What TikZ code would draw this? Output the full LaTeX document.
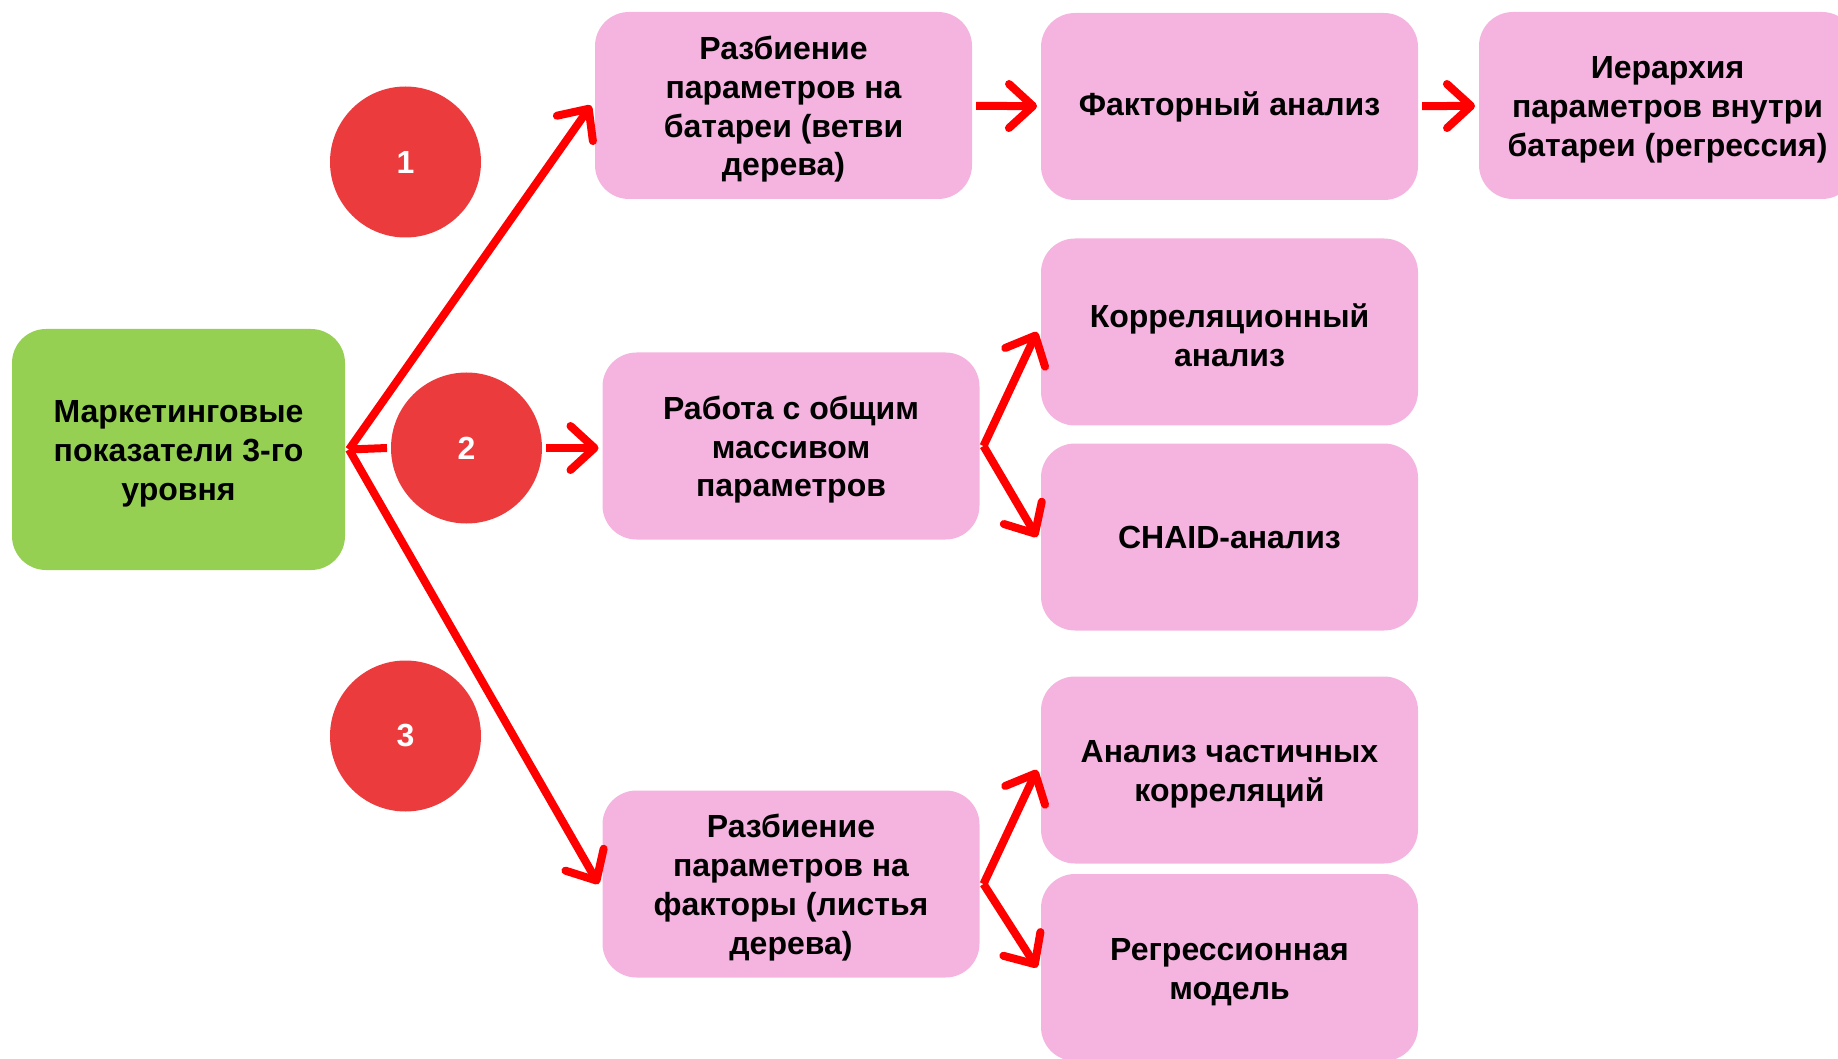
\documentclass[tikz,border=0pt]{standalone}
\usepackage{fontspec}
\setmainfont{Liberation Sans}
\usetikzlibrary{arrows.meta}

\definecolor{zelen}{HTML}{95D053}
\definecolor{rozov}{HTML}{F4B4DF}
\definecolor{krasn}{HTML}{EC3B3D}
\newcommand{\vstrut}{\rule{0pt}{15.5pt}}

\begin{document}
\begin{tikzpicture}[x=0.5pt, y=-0.5pt, line width=4pt,
    box/.style={fill=rozov, rounded corners=17pt, minimum width=188.5pt, minimum height=93.5pt,
        inner sep=0pt, align=center, font=\fontsize{16}{19.4}\selectfont\bfseries},
    start/.style={box, fill=zelen, minimum width=166.5pt, minimum height=120.5pt},
    num/.style={circle, fill=krasn, minimum size=75.5pt, inner sep=0pt, text=white,
        font=\fontsize{16}{19.4}\selectfont\bfseries},
    arr/.style={draw=red, line join=round, -{Straight Barb[length=12pt, width=22pt, line cap=round, line join=round]}}]
        \useasboundingbox (0,0) rectangle (1838,1059);

        % исходный блок и номера
        \node[start] (start) at (178.5,449.5) {\vstrut Маркетинговые\\показатели 3-го\\уровня};
        \node[num] (n1) at (405.5,162) {1};
        \node[num] (n2) at (466.5,448) {2};
        \node[num] (n3) at (405.5,736) {3};

        % ветка 1
        \node[box] (razb) at (783.5,105.5) {\vstrut Разбиение\\параметров на\\батареи (ветви\\дерева)};
        \node[box] (faktor) at (1229.5,106.5) {Факторный анализ};
        \node[box] (ierarh) at (1667.5,105.5) {\vstrut Иерархия\\параметров внутри\\батареи (регрессия)};
        % ветка 2
        \node[box] (massiv) at (791,446) {\vstrut Работа с общим\\массивом\\параметров};
        \node[box] (korr) at (1229.5,332) {\vstrut Корреляционный\\анализ};
        \node[box] (chaid) at (1229.5,537) {CHAID-анализ};
        % ветка 3
        \node[box] (listya) at (791,884) {\vstrut Разбиение\\параметров на\\факторы (листья\\дерева)};
        \node[box] (chast) at (1229.5,770) {\vstrut Анализ частичных\\корреляций};
        \node[box] (regr) at (1229.5,967.5) {\vstrut Регрессионная\\модель};

        % стрелки
        \draw[arr] (start.east) -- (razb.west);
        \draw[red, line join=round] (start.east) -- (n2.west);
        \draw[arr] (n2.east) -- (massiv.west |- n2.east);
        \draw[arr] (start.east) -- (listya.west);
        \draw[arr] (razb) -- (faktor);
        \draw[arr] (faktor) -- (ierarh);
        \draw[arr] (massiv.east) -- (korr.west);
        \draw[arr] (massiv.east) -- (chaid.west);
        \draw[arr] (listya.east) -- (chast.west);
        \draw[arr] (listya.east) -- (regr.west);
    \end{tikzpicture}
\end{document}
